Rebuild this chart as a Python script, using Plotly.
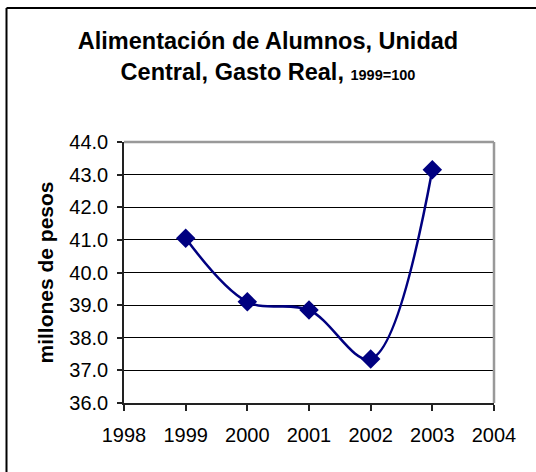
import plotly.graph_objects as go

years = [1999, 2000, 2001, 2002, 2003]
values = [41.05, 39.1, 38.85, 37.35, 43.15]

W, H = 536, 472
L, R, T, B = 124, 494, 142, 403

fig = go.Figure()
fig.add_trace(go.Scatter(
    x=years, y=values, mode="lines+markers",
    line=dict(color="#000080", width=2.5, shape="spline", smoothing=1),
    marker=dict(symbol="diamond", size=15, color="#000080"),
    showlegend=False, cliponaxis=False,
))

def px(xp):
    return (xp - L) / (R - L)

def py(yp):
    return (B - yp) / (B - T)

fig.update_layout(
    width=W, height=H,
    margin=dict(l=L, r=W - R, t=T, b=H - B),
    paper_bgcolor="white", plot_bgcolor="white",
    font=dict(family="Liberation Sans, Arial, sans-serif", color="black", size=20),
    title=dict(
        text="<b>Alimentación de Alumnos, Unidad<br>Central, Gasto Real, <span style='font-size:14.5px'>1999=100</span></b>",
        x=0.5, xref="container", xanchor="center",
        y=1 - 49 / H, yref="container", yanchor="top",
        font=dict(size=23.5, family="Liberation Sans, Arial, sans-serif", color="black"),
    ),
    xaxis=dict(
        range=[1998, 2004], dtick=1, tick0=1998,
        showgrid=False, zeroline=False,
        showline=True, linecolor="#222", linewidth=1.5,
        ticks="outside", ticklen=6, tickcolor="#222", tickwidth=1.5,
        tickfont=dict(size=20), ticklabelstandoff=7,
    ),
    yaxis=dict(
        range=[36, 44], dtick=1, tick0=36, tickformat=".1f",
        showgrid=True, gridcolor="black", gridwidth=1,
        zeroline=False,
        showline=True, linecolor="#222", linewidth=1.5,
        ticks="outside", ticklen=5, tickcolor="#222", tickwidth=1.5,
        tickfont=dict(size=20), ticklabelstandoff=5,
        title=dict(text="<b>millones de pesos</b>", font=dict(size=21), standoff=10),
    ),
    shapes=[
        dict(type="line", xref="paper", yref="paper", x0=0, x1=1, y0=1, y1=1,
             line=dict(color="#999999", width=2.5)),
        dict(type="line", xref="paper", yref="paper", x0=1, x1=1, y0=0, y1=1,
             line=dict(color="#999999", width=2.5)),
        dict(type="line", xref="paper", yref="paper", x0=px(6.5), x1=px(6.5), y0=py(8), y1=py(480),
             line=dict(color="black", width=2)),
        dict(type="line", xref="paper", yref="paper", x0=px(6.5), x1=px(545), y0=py(8), y1=py(8),
             line=dict(color="black", width=2)),
    ],
)

fig.write_html("out.html", config={"displayModeBar": False},
               post_script="document.body.style.margin='0';document.body.style.overflow='hidden';")
